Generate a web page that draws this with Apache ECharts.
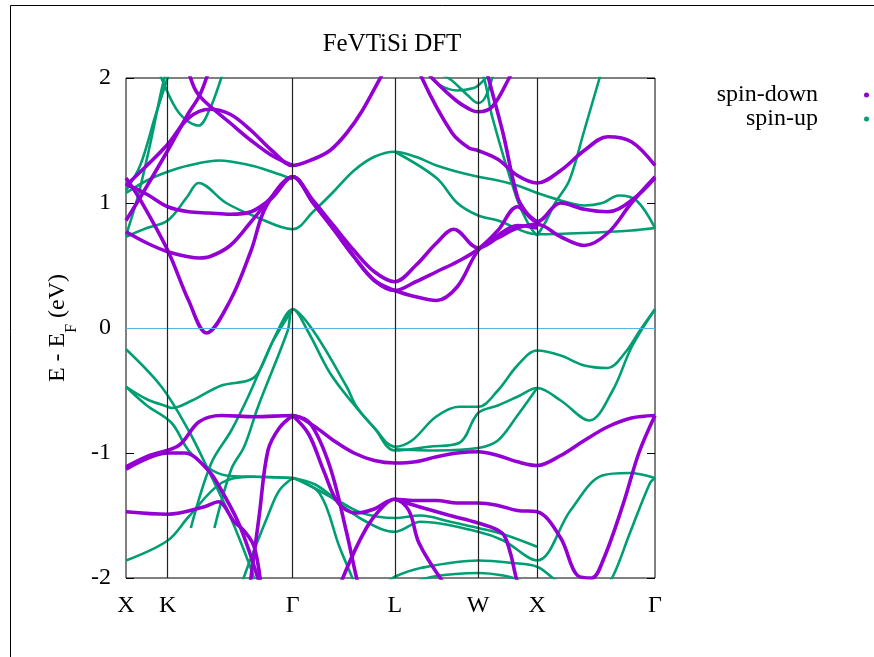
<!DOCTYPE html>
<html>
<head>
<meta charset="utf-8">
<script src="https://cdn.jsdelivr.net/npm/echarts@6/dist/echarts.min.js"></script>
<style>
  html, body { margin: 0; padding: 0; background: #fff; }
  #chart { width: 874px; height: 657px; }
</style>
</head>
<body>
<div id="chart"></div>
<script>
// High-symmetry points along the k-path (cumulative path length, 2π/a units)
const kTicks = [0, 0.354, 1.414, 2.280, 2.987, 3.487, 4.487];
const kNames = ['X', 'K', 'Γ', 'L', 'W', 'X', 'Γ'];
const energyTicks = [-2, -1, 0, 1, 2];

// Spin-down bands: [k, E - E_F]
const dn1 = [[0,1.14],[0.177,1.30],[0.354,1.47],[0.531,1.68],[0.71,1.75],[0.884,1.71],[1.061,1.58],[1.237,1.42],[1.414,1.30],[1.587,1.35],[1.73,1.42],[1.872,1.56],[2.005,1.74],[2.163,2.01],[2.28,2.2]];
const dn2 = [[0.50,2.15],[0.58,1.92],[0.66,1.82],[0.884,1.64],[1.061,1.50],[1.237,1.38],[1.414,1.30]];
const dn3 = [[0,0.86],[0.124,1.05],[0.354,1.42],[0.531,1.72],[0.624,1.86],[0.70,2.05]];
const dn4 = [[0,1.15],[0.177,1.07],[0.354,0.97],[0.531,0.93],[0.708,0.92],[0.884,0.91],[1.061,0.93],[1.237,1.04],[1.414,1.21],[1.587,1.02],[1.76,0.82],[1.934,0.62],[2.107,0.45],[2.28,0.37],[2.457,0.50],[2.634,0.68],[2.78,0.79],[2.987,0.64],[3.154,0.72],[3.32,0.80],[3.487,0.83],[3.687,0.73],[3.887,0.66],[4.087,0.76],[4.287,1.0],[4.487,1.21]];
const dn5 = [[0,0.77],[0.177,0.68],[0.354,0.61],[0.531,0.57],[0.62,0.56],[0.708,0.57],[0.884,0.66],[1.061,0.85],[1.237,1.05],[1.414,1.21],[1.587,1.0],[1.76,0.79],[1.934,0.57],[2.107,0.38],[2.28,0.30],[2.457,0.37],[2.634,0.45],[2.81,0.53],[2.987,0.63],[3.154,0.78],[3.32,0.97],[3.487,0.85],[3.687,1.0],[3.887,0.95],[4.087,0.93],[4.287,1.02],[4.487,1.2]];
const dn6 = [[0,1.2],[0.124,1.02],[0.354,0.62],[0.531,0.22],[0.683,-0.04],[0.884,0.22],[1.061,0.62],[1.187,0.97],[1.414,1.21],[1.587,1.0],[1.76,0.79],[1.934,0.57],[2.107,0.38],[2.28,0.30],[2.457,0.25],[2.634,0.22],[2.81,0.33],[2.987,0.62],[3.154,0.74],[3.32,0.82],[3.487,0.80]];
const dn7 = [[2.45,2.2],[2.51,2.0],[2.766,1.56],[2.91,1.44],[2.987,1.42],[3.154,1.35],[3.32,1.22],[3.487,1.16],[3.687,1.26],[3.887,1.42],[4.087,1.53],[4.287,1.49],[4.487,1.30]];
const dn8 = [[2.56,2.05],[2.595,2.0],[2.80,1.82],[2.936,1.74],[2.987,1.73],[3.106,1.77],[3.25,2.0],[3.3,2.1]];
const dn9 = [[3.05,2.1],[3.08,1.98],[3.2,1.55],[3.32,1.05],[3.40,0.92],[3.487,0.85]];
const dv1 = [[0,-1.11],[0.2,-1.02],[0.447,-0.94],[0.62,-0.75],[0.81,-0.70],[1.09,-0.71],[1.414,-0.70],[1.587,-0.78],[1.76,-0.90],[1.934,-1.0],[2.107,-1.06],[2.28,-1.08],[2.457,-1.07],[2.634,-1.03],[2.81,-1.0],[2.987,-0.99],[3.154,-1.02],[3.32,-1.07],[3.487,-1.1],[3.687,-1.02],[3.887,-0.9],[4.087,-0.79],[4.287,-0.72],[4.487,-0.70]];
const dv2 = [[0,-1.13],[0.354,-1.0],[0.497,-1.0],[0.699,-1.14],[0.81,-1.30],[0.95,-1.55],[1.05,-1.8],[1.15,-2.1]];
const dv3 = [[0,-1.47],[0.354,-1.49],[0.666,-1.43],[0.783,-1.39],[0.918,-1.55],[1.0,-1.62],[1.087,-1.75],[1.15,-2.1]];
const dv4 = [[1.78,-2.2],[1.839,-2.0],[2.039,-1.6],[2.188,-1.42],[2.28,-1.37],[2.399,-1.46],[2.485,-1.72],[2.68,-2.02]];
const dv5 = [[1.414,-0.70],[1.55,-0.85],[1.68,-1.15],[1.80,-1.40],[1.95,-1.48],[2.1,-1.45],[2.28,-1.37],[2.43,-1.38],[2.634,-1.38],[2.81,-1.40],[2.987,-1.40],[3.154,-1.42],[3.32,-1.46],[3.487,-1.47],[3.687,-1.68],[3.83,-1.98],[3.95,-2.0],[4.05,-1.85],[4.22,-1.4],[4.35,-1.0],[4.487,-0.70]];
const dv6 = [[1.414,-0.70],[1.56,-0.76],[1.73,-1.11],[1.872,-1.64],[1.956,-2.0],[2.0,-2.15]];
const dv7 = [[1.03,-2.2],[1.061,-1.99],[1.13,-1.5],[1.204,-0.98],[1.30,-0.80],[1.414,-0.70]];
const dv8 = [[2.28,-1.37],[2.485,-1.43],[2.75,-1.5],[2.987,-1.56],[3.19,-1.64],[3.26,-1.8],[3.31,-2.0],[3.35,-2.1]];

// Spin-up bands: [k, E - E_F]
const up1 = [[0,0.73],[0.177,0.80],[0.354,0.86],[0.52,1.05],[0.615,1.16],[0.85,1.0],[1.10,0.89],[1.414,0.79],[1.587,0.93],[1.76,1.09],[1.934,1.26],[2.107,1.37],[2.28,1.41],[2.457,1.37],[2.634,1.30],[2.81,1.25],[2.987,1.21],[3.154,1.18],[3.32,1.14],[3.487,1.08],[3.687,1.02],[3.887,0.98],[4.04,1.0],[4.18,1.06],[4.33,1.02],[4.487,0.80]];
const up2 = [[0,1.08],[0.177,1.18],[0.354,1.25],[0.531,1.30],[0.79,1.34],[1.061,1.30],[1.237,1.25],[1.414,1.19]];
const up3 = [[0.27,2.1],[0.30,2.0],[0.45,1.72],[0.615,1.62],[0.71,1.75],[0.808,2.0],[0.84,2.1]];
const up4 = [[0,0.74],[0.1,1.05],[0.2,1.45],[0.3,1.9],[0.34,2.05]];
const up5 = [[0,1.1],[0.12,1.3],[0.25,1.7],[0.37,2.05]];
const up6 = [[2.28,1.41],[2.634,1.2],[2.81,1.0],[2.987,0.9],[3.154,0.86],[3.487,0.75],[3.887,0.76],[4.287,0.78],[4.487,0.80]];
const up7 = [[3.487,0.74],[3.56,0.85],[3.64,1.0],[3.76,1.18],[3.887,1.58],[4.017,2.0],[4.05,2.1]];
const up8 = [[3.0,2.1],[3.05,1.95],[3.106,1.69],[3.31,1.05],[3.42,0.82],[3.487,0.74]];
const up9 = [[2.55,2.05],[2.65,1.95],[2.81,1.90],[2.95,1.92],[3.0,1.95],[3.1,2.05]];
const up10 = [[2.62,2.05],[2.75,1.99],[2.90,1.86],[2.987,1.80],[3.05,1.85],[3.12,2.05]];
const uv1 = [[0.55,-1.6],[0.724,-1.08],[0.893,-0.82],[1.036,-0.55],[1.288,-0.02],[1.414,0.15],[1.539,-0.02],[1.73,-0.36],[1.922,-0.6],[2.107,-0.8],[2.28,-0.95],[2.425,-0.9],[2.629,-0.71],[2.825,-0.63],[2.987,-0.63],[3.154,-0.50],[3.32,-0.30],[3.487,-0.18],[3.687,-0.22],[3.887,-0.30],[4.087,-0.32],[4.231,-0.20],[4.359,-0.02],[4.487,0.15]];
const uv2 = [[0.75,-1.6],[0.893,-1.13],[1.002,-0.95],[1.12,-0.63],[1.372,-0.02],[1.414,0.15],[1.587,-0.02],[1.872,-0.47],[1.956,-0.63],[2.107,-0.8],[2.28,-0.98],[2.57,-0.95],[2.825,-0.92],[2.987,-0.68],[3.154,-0.62],[3.32,-0.55],[3.487,-0.48],[3.687,-0.58],[3.93,-0.74],[4.128,-0.50],[4.29,-0.15],[4.487,0.15]];
const uv3 = [[2.28,-0.97],[2.634,-0.98],[2.987,-0.96],[3.154,-0.90],[3.32,-0.7],[3.487,-0.48]];
const uv4 = [[0,-0.17],[0.301,-0.47],[0.531,-0.82],[0.70,-1.14],[0.88,-1.5],[1.05,-1.9],[1.1,-2.05]];
const uv5 = [[0,-0.47],[0.177,-0.57],[0.354,-0.63],[0.39,-0.64],[0.56,-0.58],[0.81,-0.46],[1.036,-0.42],[1.12,-0.36],[1.25,-0.1],[1.414,0.15]];
const uv6 = [[0,-0.47],[0.177,-0.62],[0.387,-0.76],[0.531,-0.98],[0.70,-1.12],[0.85,-1.18],[1.1,-1.19],[1.414,-1.2]];
const uv7 = [[0,-1.86],[0.354,-1.7],[0.531,-1.51],[0.808,-1.24],[1.061,-1.19],[1.414,-1.2],[1.45,-1.21],[1.73,-1.35],[2.0,-1.53],[2.28,-1.63],[2.5,-1.55],[2.987,-1.63],[3.2,-1.7],[3.487,-1.86],[3.77,-1.46],[4.04,-1.18],[4.27,-1.16],[4.487,-1.2]];
const uv8 = [[1.414,-1.2],[1.64,-1.32],[1.81,-1.75],[1.92,-2.0],[1.96,-2.1]];
const uv9 = [[0.98,-2.05],[1.036,-1.9],[1.204,-1.5],[1.3,-1.3],[1.414,-1.2]];
const uv10 = [[4.03,-2.1],[4.128,-1.99],[4.274,-1.64],[4.445,-1.24],[4.487,-1.2]];
const uv11 = [[2.2,-2.05],[2.28,-1.99],[2.5,-1.92],[2.987,-1.86],[3.28,-1.88],[3.487,-1.91],[3.62,-2.0],[3.7,-2.05]];
const uv12 = [[2.4,-2.05],[2.6,-1.99],[2.987,-1.96],[3.2,-1.98],[3.35,-2.02]];
const uv13 = [[1.414,-1.2],[1.6,-1.25],[1.8,-1.38],[2.0,-1.48],[2.28,-1.52],[2.5,-1.50],[2.75,-1.55],[2.987,-1.6],[3.2,-1.65],[3.487,-1.75]];

const spinDownBands = [dn1, dn2, dn3, dn4, dn5, dn6, dn7, dn8, dn9, dv1, dv2, dv3, dv4, dv5, dv6, dv7, dv8];
const spinUpBands = [up1, up2, up3, up4, up5, up6, up7, up8, up9, up10, uv1, uv2, uv3, uv4, uv5, uv6, uv7, uv8, uv9, uv10, uv11, uv12, uv13];

const DOWN_COLOR = '#9400d3';
const UP_COLOR = '#009e73';
const SERIF = '"Liberation Serif", "DejaVu Serif", serif';
const FONT_SIZE = 24;

function bandSeries(name, color, width, data) {
  return {
    type: 'line', name, data,
    smooth: 0.35,
    symbol: 'none', clip: true,
    lineStyle: { color, width },
    itemStyle: { color },
    emphasis: { disabled: true },
    silent: true
  };
}

const series = [];
spinUpBands.forEach(b => series.push(bandSeries('spin-up', UP_COLOR, 2.6, b)));
spinDownBands.forEach(b => series.push(bandSeries('spin-down', DOWN_COLOR, 3.6, b)));

// Fermi level and high-symmetry verticals
series.push({
  type: 'line', data: [], silent: true,
  markLine: {
    silent: true, symbol: 'none', label: { show: false },
    data: [
      { yAxis: 0, lineStyle: { color: '#56b4e9', width: 1, type: 'solid' } },
      ...kTicks.slice(1, -1).map(k => ({ xAxis: k, lineStyle: { color: '#222', width: 1.2, type: 'solid' } }))
    ]
  }
});

const chart = echarts.init(document.getElementById('chart'), null, { renderer: 'canvas' });
chart.setOption({
  animation: false,
  backgroundColor: '#fff',
  title: {
    text: 'FeVTiSi DFT', left: 387, top: 27, textAlign: 'center',
    textStyle: { fontFamily: SERIF, fontSize: 25, fontWeight: 'normal', color: '#000' }
  },
  legend: {
    data: ['spin-down', 'spin-up'],
    orient: 'vertical', right: 5, top: 83, align: 'right', padding: 0,
    icon: 'circle', itemWidth: 5, itemHeight: 5, itemGap: 0,
    textStyle: { fontFamily: SERIF, fontSize: FONT_SIZE, color: '#000', padding: [0, 41, 0, 0] },
    selectedMode: false
  },
  grid: { left: 126, right: 219, top: 78, bottom: 79, show: true, borderColor: '#000', borderWidth: 1, backgroundColor: 'transparent' },
  xAxis: {
    type: 'value', min: kTicks[0], max: kTicks[kTicks.length - 1],
    axisLine: { show: false }, splitLine: { show: false }, axisTick: { show: false },
    axisLabel: {
      customValues: kTicks,
      formatter: v => { const i = kTicks.findIndex(t => Math.abs(t - v) < 1e-6); return i >= 0 ? kNames[i] : ''; },
      fontFamily: SERIF, fontSize: FONT_SIZE, color: '#000', margin: 16
    }
  },
  yAxis: [{
    type: 'value', min: -2, max: 2, interval: 1,
    axisLine: { show: false }, splitLine: { show: false },
    axisTick: { show: true, inside: true, length: 8, lineStyle: { color: '#000' } },
    axisLabel: { fontFamily: SERIF, fontSize: FONT_SIZE, color: '#000', margin: 15 },
    name: 'E - E{s|F} (eV)', nameLocation: 'middle', nameGap: 46, nameRotate: 90,
    nameTextStyle: { fontFamily: SERIF, fontSize: FONT_SIZE, color: '#000',
      rich: { s: { fontFamily: SERIF, fontSize: 16, color: '#000', verticalAlign: 'bottom', padding: [0, 0, -10, 0] } } }
  }, {
    type: 'value', min: -2, max: 2, interval: 1, position: 'right',
    axisLine: { show: false }, splitLine: { show: false }, axisLabel: { show: false },
    axisTick: { show: true, inside: true, length: 8, lineStyle: { color: '#000' } }
  }],
  graphic: [{
    type: 'rect', shape: { x: 10.5, y: 5.5, width: 880, height: 680 },
    style: { fill: 'none', stroke: '#000', lineWidth: 1 }, silent: true, z: -1
  }],
  series
});
</script>
</body>
</html>
